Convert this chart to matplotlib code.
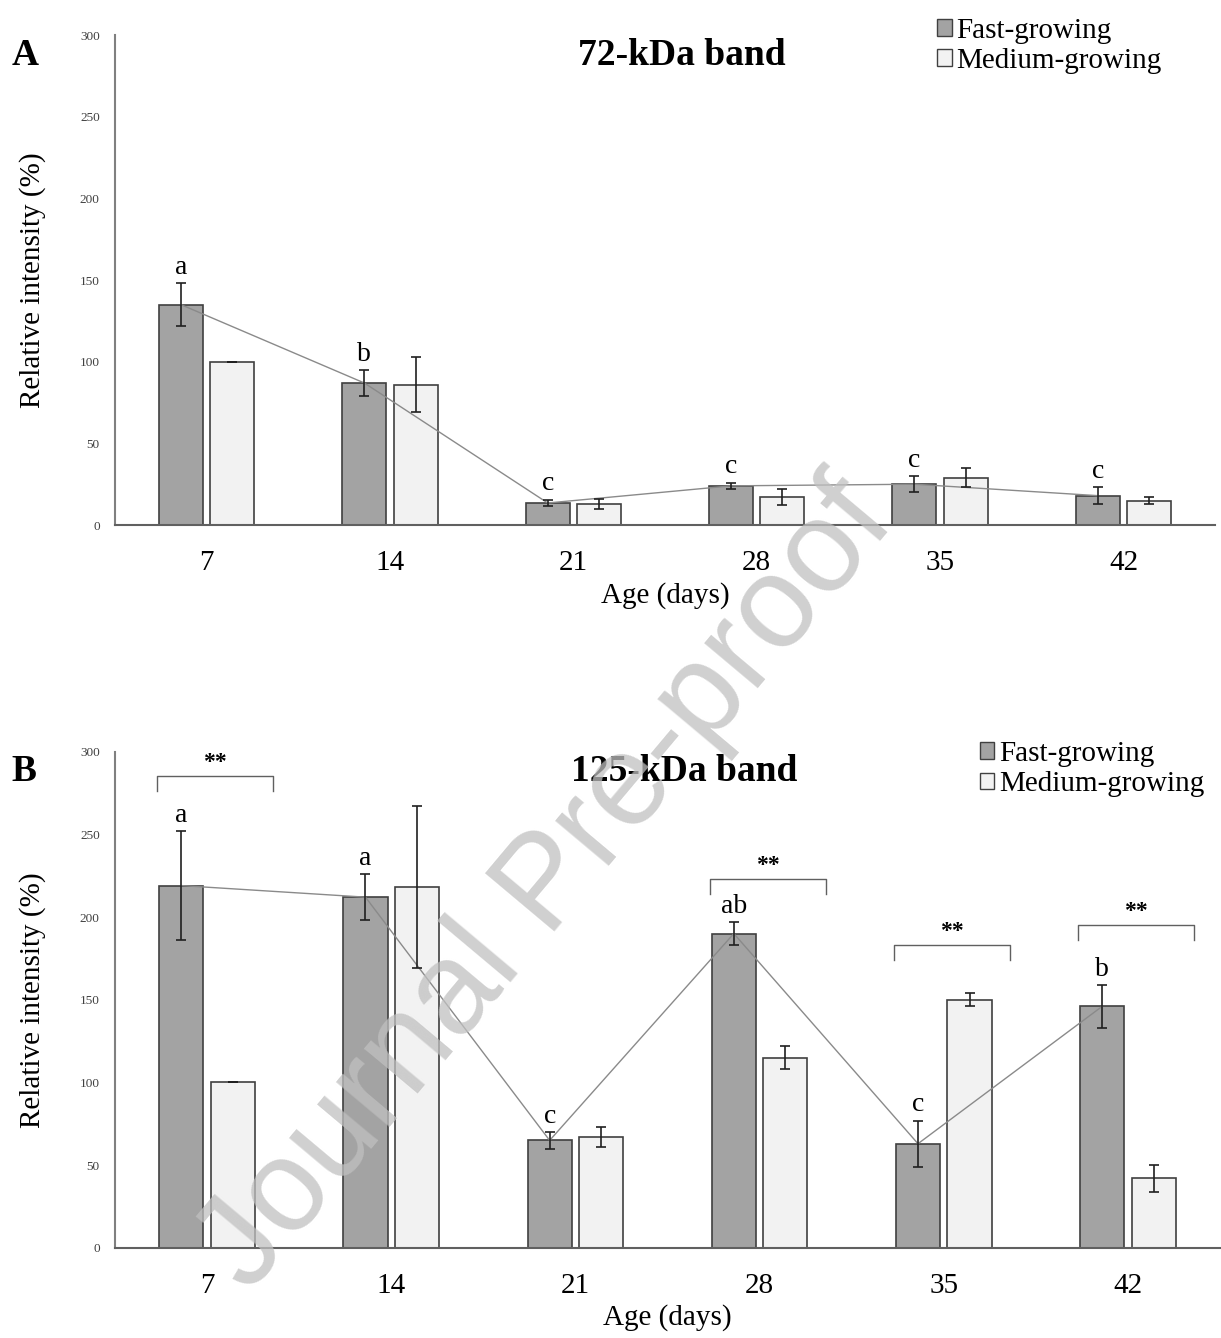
import numpy as np
import matplotlib
matplotlib.use('Agg')
import matplotlib.pyplot as plt
from matplotlib.patches import Patch

plt.rcParams['font.family'] = ['Liberation Serif', 'DejaVu Serif']

# data
ages = ['7', '14', '21', '28', '35', '42']

fast_72 = [135, 87, 13.5, 24, 25, 18]
fast_72_err = [13, 8, 2, 2, 5, 5]
med_72 = [100, 86, 13, 17, 29, 15]
med_72_err = [0, 17, 3, 5, 6, 2]
letters_72 = ['a', 'b', 'c', 'c', 'c', 'c']

fast_125 = [219, 212, 65, 190, 63, 146]
fast_125_err = [33, 14, 5, 7, 14, 13]
med_125 = [100, 218, 67, 115, 150, 42]
med_125_err = [0, 49, 6, 7, 4, 8]
letters_125 = ['a', 'a', 'c', 'ab', 'c', 'b']
# ** brackets: index of age group, height of bracket
star_idx = [0, 3, 4, 5]
star_y = [285, 223, 183, 195]

fast_col = '#a3a3a3'
med_col = '#f2f2f2'
edge = '#404040'
w = 0.24
gap = 0.04

fig = plt.figure(figsize=(12.21, 13.38), dpi=100)
axA = fig.add_axes([0.0942, 0.6076, 0.901, 0.366])
axB = fig.add_axes([0.0942, 0.0673, 0.905, 0.371])


def panel(ax, fast, fast_err, med, med_err, letters, title, lab, leg_x, leg_y):
    x = np.arange(len(ages))
    xf = x - w / 2 - gap / 2
    xm = x + w / 2 + gap / 2
    ax.bar(xf, fast, w, color=fast_col, edgecolor=edge, linewidth=1.2, zorder=2)
    ax.bar(xm, med, w, color=med_col, edgecolor=edge, linewidth=1.2, zorder=2)
    ax.errorbar(xf, fast, yerr=fast_err, fmt='none', ecolor='#202020',
                elinewidth=1.2, capsize=3.5, capthick=1.2, zorder=4)
    ax.errorbar(xm, med, yerr=med_err, fmt='none', ecolor='#202020',
                elinewidth=1.2, capsize=3.5, capthick=1.2, zorder=4)
    ax.plot(xf, fast, color='#8a8a8a', lw=1, zorder=3)
    for i in range(len(ages)):
        ax.text(xf[i], fast[i] + fast_err[i] + 2, letters[i], ha='center',
                va='bottom', fontsize=20)
    ax.set_xlim(-0.5, len(ages) - 0.5)
    ax.set_ylim(0, 300)
    ax.set_yticks([0, 50, 100, 150, 200, 250, 300])
    ax.tick_params(axis='y', length=0, labelsize=9.5, colors='#404040', pad=11)
    ax.set_xticks(x)
    ax.set_xticklabels(ages)
    ax.tick_params(axis='x', length=0, labelsize=21, pad=18)
    for s in ['top', 'right']:
        ax.spines[s].set_visible(False)
    ax.spines['left'].set_color('#808080')
    ax.spines['bottom'].set_color('#606060')
    ax.spines['left'].set_linewidth(1.5)
    ax.spines['bottom'].set_linewidth(1.5)
    ax.set_xlabel('Age (days)', fontsize=21, labelpad=4)
    ax.set_ylabel('Relative intensity (%)', fontsize=21, labelpad=24)
    ax.text(0.515, 0.995, title, transform=ax.transAxes, ha='center', va='top',
            fontsize=27, fontweight='bold')
    ax.text(-0.094, 0.995, lab, transform=ax.transAxes, ha='left', va='top',
            fontsize=27, fontweight='bold')
    handles = [Patch(facecolor=fast_col, edgecolor=edge, label='Fast-growing'),
               Patch(facecolor=med_col, edgecolor=edge, label='Medium-growing')]
    ax.legend(handles=handles, loc='upper left', bbox_to_anchor=(leg_x, leg_y),
              frameon=False, fontsize=21, handlelength=0.5, handleheight=0.5,
              handletextpad=0.15, labelspacing=0.15, borderaxespad=0)
    return xf, xm


panel(axA, fast_72, fast_72_err, med_72, med_72_err, letters_72,
      '72-kDa band', 'A', 0.737, 1.06)
xf, xm = panel(axB, fast_125, fast_125_err, med_125, med_125_err, letters_125,
               '125-kDa band', 'B', 0.772, 1.045)

for i, yb in zip(star_idx, star_y):
    x0 = xf[i] - w / 2 - 0.01
    x1 = xm[i] + w / 2 + 0.1
    axB.plot([x0, x0, x1, x1], [yb - 9, yb, yb, yb - 9], color='#606060', lw=1)
    axB.text((x0 + x1) / 2, yb + 2, '**', ha='center', va='bottom',
             fontsize=17, fontweight='bold')

# watermark
fig.text(0.448, 0.338, 'Journal Pre-proof', fontsize=94, family='Liberation Sans',
         color='#c0c0c0', alpha=0.75, rotation=50, ha='center', va='center',
         zorder=10)

fig.savefig('out.png', dpi=100)
